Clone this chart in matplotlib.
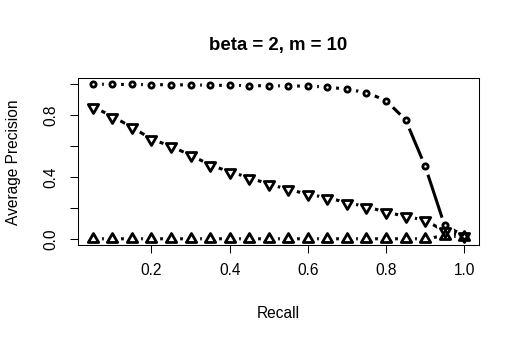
import matplotlib
matplotlib.use("Agg")
import matplotlib.pyplot as plt
from matplotlib.path import Path
import numpy as np

plt.rcParams['font.family'] = ['Liberation Sans', 'DejaVu Sans']

# ---- data ----
recall = [0.05, 0.10, 0.15, 0.20, 0.25, 0.30, 0.35, 0.40, 0.45, 0.50,
          0.55, 0.60, 0.65, 0.70, 0.75, 0.80, 0.85, 0.90, 0.95, 1.00]
series_circle = [1.000, 0.999, 0.998, 0.997, 0.996, 0.995, 0.993, 0.992, 0.991, 0.989,
                 0.989, 0.987, 0.982, 0.967, 0.946, 0.894, 0.770, 0.471, 0.087, 0.020]
series_down = [0.855, 0.791, 0.722, 0.645, 0.598, 0.541, 0.478, 0.433, 0.396, 0.353,
               0.320, 0.288, 0.266, 0.234, 0.208, 0.172, 0.146, 0.120, 0.050, 0.020]
series_up = [0.0, 0.0, 0.0, 0.0, 0.0, 0.0, 0.0, 0.0, 0.0, 0.0,
             0.0, 0.0, 0.0, 0.0, 0.0, 0.0, 0.0, 0.0, 0.020, 0.012]
x_ticks = [0.2, 0.4, 0.6, 0.8, 1.0]
x_ticklabels = ["0.2", "0.4", "0.6", "0.8", "1.0"]
y_ticks = [0.0, 0.2, 0.4, 0.6, 0.8, 1.0]
y_ticklabels = ["0.0", "", "0.4", "", "0.8", ""]
title = "beta = 2, m = 10"
xlabel = "Recall"
ylabel = "Average Precision"

W, H = 520, 342
fig = plt.figure(figsize=(W / 100, H / 100), dpi=100)
ax = fig.add_axes([78 / W, (H - 245) / H, 401 / W, 167 / H])

codes = [Path.MOVETO, Path.LINETO, Path.LINETO, Path.CLOSEPOLY]
tri_up = Path([(0, 1), (0.866, -0.5), (-0.866, -0.5), (0, 0)], codes)
tri_down = Path([(0, -1), (0.866, 0.5), (-0.866, 0.5), (0, 0)], codes)

lw = 2.2
series = [(series_circle, 'o', 3.8, 2.0), (series_down, tri_down, 8.6, 2.0),
          (series_up, tri_up, 8.6, 2.0)]
for ys, mk, ms, mw in series:
    ax.plot(recall, ys, color='black', lw=lw, solid_capstyle='butt', zorder=2)
for ys, mk, ms, mw in series:
    ax.plot(recall, ys, linestyle='none', marker='o', ms=12.5, mfc='white',
            mec='none', zorder=2.2)
for ys, mk, ms, mw in series:
    ax.plot(recall, ys, linestyle='none', marker=mk, ms=ms, mfc='none',
            mec='black', mew=mw, zorder=3)

ax.set_xlim(0.012, 1.038)
ax.set_ylim(-0.04, 1.04)
ax.set_xticks(x_ticks)
ax.set_xticklabels(x_ticklabels)
ax.set_yticks(y_ticks)
ax.set_yticklabels(y_ticklabels, rotation=90, va='center')
ax.tick_params(axis='both', direction='out', length=5.8, width=0.75,
               labelsize=11.2, colors='black')
ax.tick_params(axis='x', pad=7.5)
ax.tick_params(axis='y', pad=8)
for s in ax.spines.values():
    s.set_linewidth(0.75)
    s.set_color('black')
    s.set_zorder(4)

fig.text((78 + 479) / 2 / W, (H - 50) / H, title, ha='center', va='baseline',
         fontsize=13.4, fontweight='bold')
fig.text((78 + 479) / 2 / W, (H - 318) / H, xlabel, ha='center', va='baseline',
         fontsize=11.2)
fig.text(18 / W, (H - 162) / H, ylabel, ha='center', va='baseline', rotation=90,
         rotation_mode='anchor', fontsize=11.2)

fig.savefig("out.png", dpi=100)
